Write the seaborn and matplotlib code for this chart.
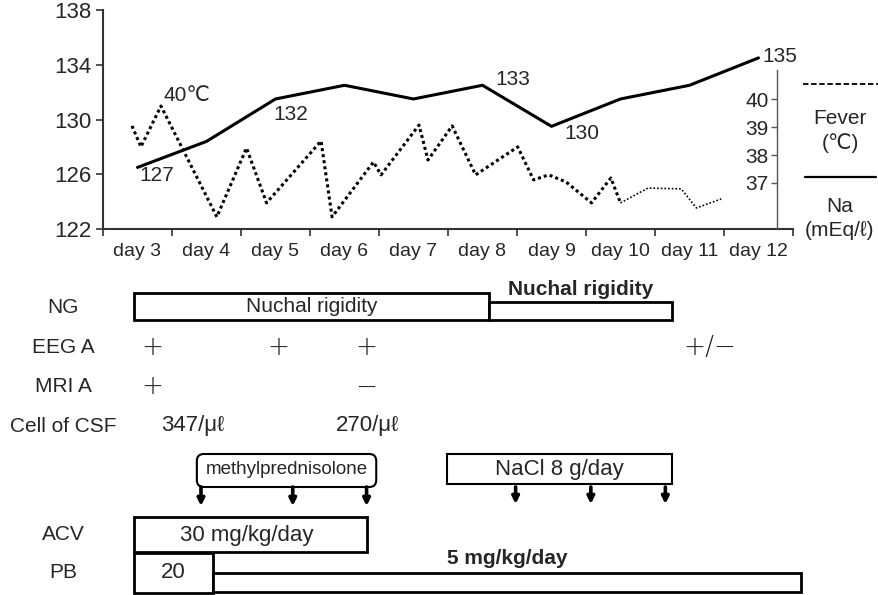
import numpy as np
import seaborn as sns
import matplotlib.pyplot as plt
from matplotlib.patches import FancyBboxPatch
from matplotlib.lines import Line2D

sns.set_theme(style="white")
plt.rcParams['font.family'] = ['Liberation Sans', 'DejaVu Sans']

# ---- data ----
days = ['day 3', 'day 4', 'day 5', 'day 6', 'day 7', 'day 8', 'day 9', 'day 10', 'day 11', 'day 12']
na = [126.5, 128.4, 131.5, 132.5, 131.5, 132.5, 129.5, 131.5, 132.5, 134.5]
na_labels = {0: '127', 2: '132', 5: '133', 6: '130', 9: '135'}

fever_t = [-0.08, 0.05, 0.34, 1.15, 1.58, 1.87, 2.66, 2.82, 3.42, 3.53, 4.08, 4.21,
           4.56, 4.90, 5.51, 5.74, 5.96, 6.21, 6.58, 6.86, 7.00]
fever = [39.04, 38.29, 39.75, 35.79, 38.25, 36.29, 38.5, 35.79, 37.75, 37.29, 39.07, 37.82,
         39.04, 37.29, 38.29, 37.11, 37.29, 37.04, 36.29, 37.18, 36.29]
fever_t2 = [7.00, 7.40, 7.88, 8.10, 8.46]
fever2 = [36.29, 36.82, 36.79, 36.11, 36.43]

# timeline (in day units, day 3 = 0)
ng_periods = [(-0.05, 5.09), (5.09, 7.75)]
eeg_marks = [(0.21, '+'), (2.04, '+'), (3.32, '+'), (8.29, '+/−')]
mri_marks = [(0.21, '+'), (3.32, '−')]
csf_marks = [(0.80, '347/μℓ'), (3.33, '270/μℓ')]
mpsl_box = (0.86, 3.46)
mpsl_doses = [0.92, 2.25, 3.32]
nacl_box = (4.49, 7.74)
nacl_doses = [5.48, 6.57, 7.65]
acv_period = (-0.05, 3.33)
pb_load = (-0.05, 1.09)
pb_maint = (1.09, 9.62)

W, H = 879, 595
fig = plt.figure(figsize=(W / 100, H / 100), dpi=100)

def px(x, y):
    return x / W, 1 - y / H

FS = 15
# ---- top chart ----
ax = fig.add_axes([103 / W, 1 - 229 / H, 690 / W, 219 / H])
x = np.arange(len(days))
sns.lineplot(x=x, y=na, ax=ax, color='black', lw=2.2)
ax.set_xlim(-0.5, 9.5)
ax.set_ylim(122, 138)
ax.set_yticks([122, 126, 130, 134, 138])
ax.set_xticks(np.arange(-0.5, 10, 1))
ax.set_xticklabels([])
ax.set_xticks(x, minor=True)
ax.set_xticklabels(days, minor=True)
ax.tick_params(axis='x', which='major', length=5, width=1.2, color='#333333', direction='out', bottom=True)
ax.tick_params(axis='x', which='minor', length=0, labelsize=14, pad=10, bottom=True)
ax.tick_params(axis='y', length=5, width=1.2, color='#333333', direction='out', labelsize=16, left=True)
ax.set_xlabel('')
ax.set_ylabel('')
for s in ['top', 'right']:
    ax.spines[s].set_visible(False)
for s in ['left', 'bottom']:
    ax.spines[s].set_color('#333333')
    ax.spines[s].set_linewidth(1.5)

offsets = {0: (19, -8), 2: (15, -16), 5: (30, 6), 6: (30, -7), 9: (21, 1)}
for i, t in na_labels.items():
    ax.annotate(t, xy=(x[i], na[i]), xytext=offsets[i], textcoords='offset pixels',
                ha='center', va='center', fontsize=FS)

ax2 = ax.twinx()
sns.lineplot(x=fever_t, y=fever, ax=ax2, color='black', lw=2.2, linestyle=(0, (1, 1)))
sns.lineplot(x=fever_t2, y=fever2, ax=ax2, color='black', lw=1.2, linestyle=(0, (1, 1.2)))
ax2.set_ylim(35.357, 43.179)
ax2.set_yticks([37, 38, 39, 40])
ax2.set_ylabel('')
ax2.spines['right'].set_visible(False)
ax2.spines['top'].set_visible(False)
ax2.spines['bottom'].set_visible(False)
ax2.spines['left'].set_visible(True)
ax2.spines['left'].set_position(('data', 9.27))
ax2.spines['left'].set_bounds(35.357, 41.05)
ax2.spines['left'].set_color('#555555')
ax2.spines['left'].set_linewidth(1.0)
ax2.yaxis.set_ticks_position('left')
ax2.tick_params(axis='y', length=4, width=1, color='#555555', direction='out', labelsize=FS, pad=2)
ax2.annotate('40℃', xy=(fever_t[2], fever[2]), xytext=(26, 11), textcoords='offset pixels',
             ha='center', va='center', fontsize=FS)

# legend at right
fig.add_artist(Line2D([803 / W, 879 / W], [1 - 84 / H] * 2, color='black', lw=1.3, ls=(0, (3, 1.5))))
fig.add_artist(Line2D([805 / W, 876 / W], [1 - 177 / H] * 2, color='black', lw=1.6))
for t, yy in [('Fever', 118), ('(℃)', 143), ('Na', 207), ('(mEq/ℓ)', 230)]:
    fig.text(*px(840, yy), t, ha='center', va='center', fontsize=FS)

# ---- timeline ----
lo = fig.add_axes([103 / W, 0, 690 / W, 1 - 270 / H])
lo.set_xlim(-0.5, 9.5)
lo.set_ylim(595, 270)
lo.axis('off')

LW = 2.0
LFS = 15
SIGN = dict(fontsize=19, family='DejaVu Sans', fontweight='light')
ARROW = dict(arrowstyle='-|>', color='black', lw=2.6, mutation_scale=10, shrinkA=0, shrinkB=0)
lab_x = -1.08
for t, yy in [('NG', 308), ('EEG A', 348), ('MRI A', 387), ('Cell of CSF', 426), ('ACV', 535), ('PB', 573)]:
    lo.text(lab_x, yy, t, ha='center', va='center', fontsize=LFS, clip_on=False)

# NG boxes
(a0, a1), (b0, b1) = ng_periods
lo.barh(306.5, a1 - a0, left=a0, height=27, color='white', edgecolor='black', lw=LW)
lo.barh(311, b1 - b0, left=b0, height=18, color='white', edgecolor='black', lw=LW)
lo.text((a0 + a1) / 2, 307, 'Nuchal rigidity', ha='center', va='center', fontsize=LFS)
lo.text((b0 + b1) / 2, 290, 'Nuchal rigidity', ha='center', va='center', fontsize=LFS, fontweight='bold')

for xx, t in eeg_marks:
    lo.text(xx, 348, t, ha='center', va='center', **SIGN)
for xx, t in mri_marks:
    lo.text(xx, 387, t, ha='center', va='center', **SIGN)
for xx, t in csf_marks:
    lo.text(xx, 426, t, ha='center', va='center', fontsize=16)

# methylprednisolone
m0, m1 = mpsl_box
lo.add_patch(FancyBboxPatch((m0, 454), m1 - m0, 33, boxstyle='round,pad=0,rounding_size=0.1',
                            mutation_aspect=69.2, facecolor='white', edgecolor='black', lw=1.5))
lo.text((m0 + m1) / 2, 470, 'methylprednisolone', ha='center', va='center', fontsize=13.5)
for xx in mpsl_doses:
    lo.annotate('', xy=(xx, 506), xytext=(xx, 487), arrowprops=ARROW)

# NaCl
n0, n1 = nacl_box
lo.barh(469, n1 - n0, left=n0, height=30, color='white', edgecolor='black', lw=1.5)
lo.text((n0 + n1) / 2, 469, 'NaCl 8 g/day', ha='center', va='center', fontsize=16)
for xx in nacl_doses:
    lo.annotate('', xy=(xx, 504), xytext=(xx, 487), arrowprops=ARROW)

# ACV
c0, c1 = acv_period
lo.barh(534.5, c1 - c0, left=c0, height=35, color='white', edgecolor='black', lw=LW)
lo.text((c0 + c1) / 2 - 0.06, 535, '30 mg/kg/day', ha='center', va='center', fontsize=16)

# PB
p0, p1 = pb_load
lo.barh(572.5, p1 - p0, left=p0, height=40, color='white', edgecolor='black', lw=LW, clip_on=False)
lo.text((p0 + p1) / 2, 573, '20', ha='center', va='center', fontsize=16)
q0, q1 = pb_maint
lo.barh(582.5, q1 - q0, left=q0, height=19, color='white', edgecolor='black', lw=LW, clip_on=False)
lo.text(4.49, 558, '5 mg/kg/day', ha='left', va='center', fontsize=15, fontweight='bold')

fig.savefig('out.png', dpi=100)
